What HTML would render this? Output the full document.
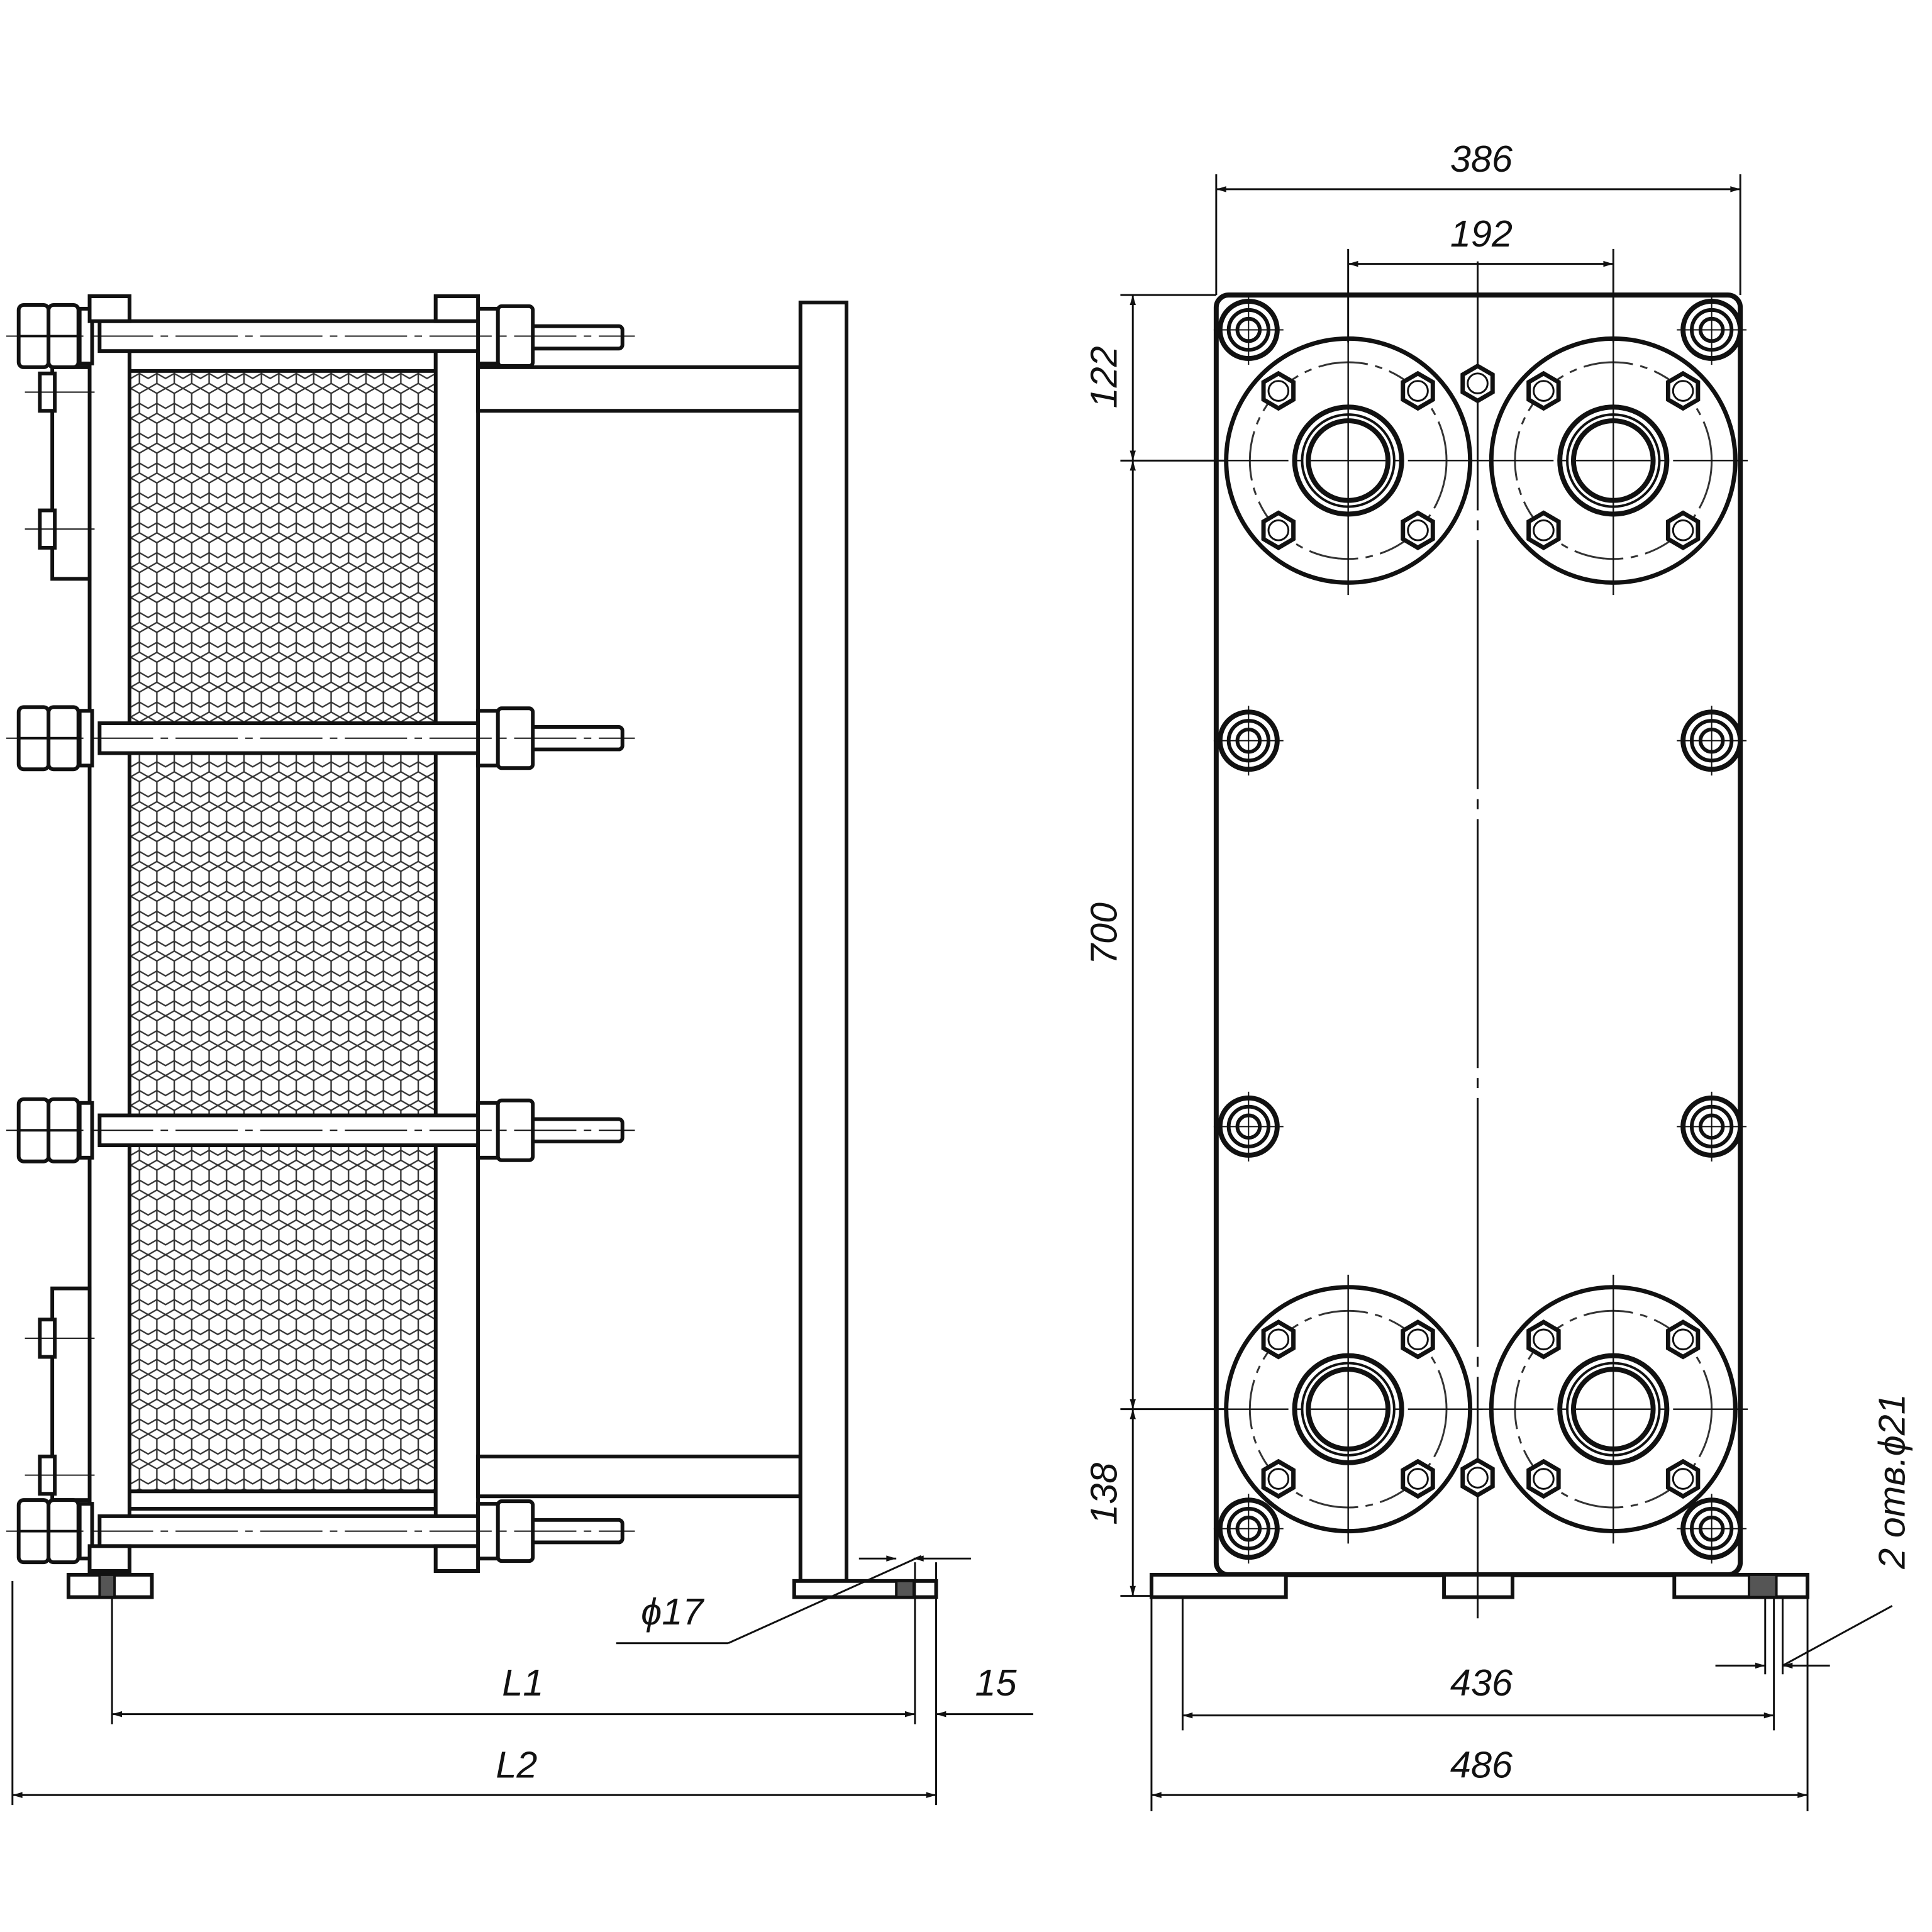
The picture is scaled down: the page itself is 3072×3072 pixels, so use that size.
<!DOCTYPE html>
<html><head><meta charset="utf-8"><style>
html,body{margin:0;padding:0;background:#fff}
svg{display:block}
text{font-family:"Liberation Sans","DejaVu Sans",sans-serif;font-style:italic;font-size:30px;fill:#111}
</style></head><body>
<svg width="3072" height="3072" viewBox="0 0 1552 1552" xmlns="http://www.w3.org/2000/svg">
<defs>
<pattern id="hex" width="14" height="24" patternUnits="userSpaceOnUse">
<path d="M7 0 L14 4 L14 12 L7 16 L0 12 L0 4 Z M0 12 L0 20 M14 12 L14 20 M0 20 L7 24 M14 20 L7 24" fill="none" stroke="#333" stroke-width="1.2"/>
</pattern>
<marker id="ar" viewBox="0 0 10 10" refX="10" refY="5" markerWidth="14" markerHeight="8" orient="auto-start-reverse" markerUnits="userSpaceOnUse"><path d="M0 2 L10 5 L0 8 Z" fill="#111"/></marker>
<g id="nutL"><rect x="0" y="0" width="24" height="50" fill="#fff" stroke="#111" stroke-width="3" rx="4"/><rect x="24" y="0" width="24" height="50" fill="#fff" stroke="#111" stroke-width="3" rx="4"/><line x1="0" y1="25" x2="48" y2="25" stroke="#111" stroke-width="2"/></g>
<g id="cb"><circle r="23" fill="#fff" stroke="#111" stroke-width="4"/><circle r="16" fill="none" stroke="#111" stroke-width="3"/><circle r="9" fill="none" stroke="#111" stroke-width="3"/><line x1="-28" y1="0" x2="28" y2="0" stroke="#111" stroke-width="1"/><line x1="0" y1="-28" x2="0" y2="28" stroke="#111" stroke-width="1"/></g>
<g id="hx"><polygon points="0,-14 12,-7 12,7 0,14 -12,7 -12,-7" fill="#fff" stroke="#111" stroke-width="3.5"/><circle r="8" fill="none" stroke="#111" stroke-width="1.5"/></g>
<g id="fl">
<circle r="98" fill="#fff" stroke="#111" stroke-width="3.5"/>
<circle r="79" fill="none" stroke="#333" stroke-width="1.5" stroke-dasharray="40 6 6 6"/>
<circle r="43" fill="none" stroke="#111" stroke-width="4"/>
<circle r="37" fill="none" stroke="#111" stroke-width="2"/>
<circle r="32" fill="none" stroke="#111" stroke-width="4"/>
<use href="#hx" x="-56" y="-56"/><use href="#hx" x="56" y="-56"/><use href="#hx" x="-56" y="56"/><use href="#hx" x="56" y="56"/>
<line x1="-108" y1="0" x2="108" y2="0" stroke="#111" stroke-width="1.2" stroke-dasharray="60 6 6 6"/>
<line x1="0" y1="-108" x2="0" y2="108" stroke="#111" stroke-width="1.2"/>
</g>
</defs>
<g stroke="#111" fill="none">
<!-- LEFT VIEW -->
<rect x="104" y="298" width="246" height="900" fill="url(#hex)" stroke="none"/>
<rect x="104" y="282" width="246" height="16" stroke-width="3" fill="#fff"/>
<rect x="104" y="1198" width="246" height="14" stroke-width="3" fill="#fff"/>
<rect x="72" y="238" width="32" height="1024" stroke-width="3" fill="#fff"/>
<rect x="350" y="238" width="34" height="1024" stroke-width="3" fill="#fff"/>
<rect x="42" y="295" width="30" height="170" stroke-width="3" fill="#fff"/>
<rect x="42" y="1035" width="30" height="170" stroke-width="3" fill="#fff"/>
<rect x="32" y="300" width="12" height="30" stroke-width="3" fill="#fff"/>
<rect x="32" y="410" width="12" height="30" stroke-width="3" fill="#fff"/>
<rect x="32" y="1060" width="12" height="30" stroke-width="3" fill="#fff"/>
<rect x="32" y="1170" width="12" height="30" stroke-width="3" fill="#fff"/>
<line x1="20" y1="315" x2="76" y2="315" stroke-width="1"/><line x1="20" y1="425" x2="76" y2="425" stroke-width="1"/>
<line x1="20" y1="1075" x2="76" y2="1075" stroke-width="1"/><line x1="20" y1="1185" x2="76" y2="1185" stroke-width="1"/>
<!-- rods -->
<g stroke-width="3" fill="#fff">
<rect x="80" y="258" width="305" height="24"/><rect x="80" y="581" width="305" height="24"/><rect x="80" y="896" width="305" height="24"/><rect x="80" y="1218" width="305" height="24"/>
<rect x="420" y="262" width="80" height="18" rx="3"/><rect x="420" y="584" width="80" height="18" rx="3"/><rect x="420" y="899" width="80" height="18" rx="3"/><rect x="420" y="1221" width="80" height="18" rx="3"/>
<rect x="384" y="248" width="16" height="44"/><rect x="400" y="246" width="28" height="48" rx="3"/>
<rect x="384" y="571" width="16" height="44"/><rect x="400" y="569" width="28" height="48" rx="3"/>
<rect x="384" y="886" width="16" height="44"/><rect x="400" y="884" width="28" height="48" rx="3"/>
<rect x="384" y="1208" width="16" height="44"/><rect x="400" y="1206" width="28" height="48" rx="3"/>
<rect x="64" y="248" width="10" height="44"/><rect x="64" y="571" width="10" height="44"/><rect x="64" y="886" width="10" height="44"/><rect x="64" y="1208" width="10" height="44"/>
</g>
<use href="#nutL" x="15" y="245"/><use href="#nutL" x="15" y="568"/><use href="#nutL" x="15" y="883"/><use href="#nutL" x="15" y="1205"/>
<g stroke-width="1" stroke-dasharray="50 6 6 6"><line x1="5" y1="270" x2="510" y2="270"/><line x1="5" y1="593" x2="510" y2="593"/><line x1="5" y1="908" x2="510" y2="908"/><line x1="5" y1="1230" x2="510" y2="1230"/></g>
<!-- top plate caps -->
<rect x="72" y="238" width="32" height="20" stroke-width="3" fill="#fff"/><rect x="350" y="238" width="34" height="20" stroke-width="3" fill="#fff"/>
<rect x="72" y="1242" width="32" height="20" stroke-width="3" fill="#fff"/><rect x="350" y="1242" width="34" height="20" stroke-width="3" fill="#fff"/>
<!-- guide bars & stand -->
<rect x="384" y="295" width="259" height="35" stroke-width="3" fill="#fff"/>
<rect x="384" y="1170" width="259" height="32" stroke-width="3" fill="#fff"/>
<rect x="643" y="243" width="37" height="1027" stroke-width="3" fill="#fff"/>
<rect x="638" y="1270" width="114" height="13" stroke-width="3" fill="#fff"/>
<rect x="720" y="1270" width="14" height="13" stroke-width="2" fill="#555"/>
<rect x="55" y="1265" width="67" height="18" stroke-width="3" fill="#fff"/>
<rect x="80" y="1265" width="12" height="18" stroke-width="2" fill="#555"/>
<!-- left dims -->
<g stroke-width="1.5">
<line x1="90" y1="1283" x2="90" y2="1385"/><line x1="735" y1="1255" x2="735" y2="1385"/><line x1="752" y1="1255" x2="752" y2="1450"/><line x1="10" y1="1270" x2="10" y2="1450"/>
<line x1="90" y1="1377" x2="735" y2="1377" marker-start="url(#ar)" marker-end="url(#ar)"/>
<line x1="752" y1="1377" x2="830" y2="1377" marker-start="url(#ar)"/>
<line x1="10" y1="1442" x2="752" y2="1442" marker-start="url(#ar)" marker-end="url(#ar)"/>
<line x1="690" y1="1252" x2="720" y2="1252" marker-end="url(#ar)"/><line x1="734" y1="1252" x2="780" y2="1252" marker-start="url(#ar)"/>
<line x1="495" y1="1320" x2="585" y2="1320"/><line x1="585" y1="1320" x2="740" y2="1250"/>
</g>
<!-- RIGHT VIEW -->
<rect x="977" y="237" width="421" height="1028" rx="10" stroke-width="4" fill="#fff"/>
<rect x="925" y="1265" width="108" height="18" stroke-width="3" fill="#fff"/>
<rect x="1160" y="1265" width="55" height="18" stroke-width="3" fill="#fff"/>
<rect x="1345" y="1265" width="107" height="18" stroke-width="3" fill="#fff"/>
<rect x="1405" y="1265" width="22" height="18" stroke-width="2" fill="#555"/>
<line x1="1187" y1="210" x2="1187" y2="1300" stroke-width="1.5" stroke-dasharray="200 8 8 8"/>
<use href="#fl" x="1083" y="370"/><use href="#fl" x="1296" y="370"/><use href="#fl" x="1083" y="1132"/><use href="#fl" x="1296" y="1132"/>
<use href="#hx" x="1187" y="308"/><use href="#hx" x="1187" y="1187"/>
<use href="#cb" x="1003" y="265"/><use href="#cb" x="1375" y="265"/><use href="#cb" x="1003" y="595"/><use href="#cb" x="1375" y="595"/>
<use href="#cb" x="1003" y="905"/><use href="#cb" x="1375" y="905"/><use href="#cb" x="1003" y="1228"/><use href="#cb" x="1375" y="1228"/>
<!-- right dims -->
<g stroke-width="1.5">
<line x1="977" y1="140" x2="977" y2="237"/><line x1="1398" y1="140" x2="1398" y2="237"/>
<line x1="977" y1="152" x2="1398" y2="152" marker-start="url(#ar)" marker-end="url(#ar)"/>
<line x1="1083" y1="200" x2="1083" y2="275"/><line x1="1296" y1="200" x2="1296" y2="275"/>
<line x1="1083" y1="212" x2="1296" y2="212" marker-start="url(#ar)" marker-end="url(#ar)"/>
<line x1="900" y1="237" x2="977" y2="237"/><line x1="900" y1="370" x2="985" y2="370"/><line x1="900" y1="1132" x2="985" y2="1132"/><line x1="900" y1="1282" x2="925" y2="1282"/>
<line x1="910" y1="237" x2="910" y2="370" marker-start="url(#ar)" marker-end="url(#ar)"/>
<line x1="910" y1="370" x2="910" y2="1132" marker-start="url(#ar)" marker-end="url(#ar)"/>
<line x1="910" y1="1132" x2="910" y2="1282" marker-start="url(#ar)" marker-end="url(#ar)"/>
<line x1="950" y1="1283" x2="950" y2="1390"/><line x1="1425" y1="1283" x2="1425" y2="1390"/>
<line x1="925" y1="1283" x2="925" y2="1455"/><line x1="1452" y1="1283" x2="1452" y2="1455"/>
<line x1="1418" y1="1283" x2="1418" y2="1345"/><line x1="1432" y1="1283" x2="1432" y2="1345"/>
<line x1="950" y1="1378" x2="1425" y2="1378" marker-start="url(#ar)" marker-end="url(#ar)"/>
<line x1="925" y1="1442" x2="1452" y2="1442" marker-start="url(#ar)" marker-end="url(#ar)"/>
<line x1="1378" y1="1338" x2="1418" y2="1338" marker-end="url(#ar)"/><line x1="1432" y1="1338" x2="1470" y2="1338" marker-start="url(#ar)"/>
<line x1="1432" y1="1338" x2="1520" y2="1290"/>
</g>
</g>
<text x="1190" y="138" text-anchor="middle">386</text>
<text x="1190" y="198" text-anchor="middle">192</text>
<text x="1190" y="1362" text-anchor="middle">436</text>
<text x="1190" y="1428" text-anchor="middle">486</text>
<text transform="translate(897,303) rotate(-90)" text-anchor="middle">122</text>
<text transform="translate(897,750) rotate(-90)" text-anchor="middle">700</text>
<text transform="translate(897,1200) rotate(-90)" text-anchor="middle">138</text>
<text transform="translate(1530,1190) rotate(-90)" text-anchor="middle">2 отв.ϕ21</text>
<text x="420" y="1362" text-anchor="middle">L1</text>
<text x="415" y="1428" text-anchor="middle">L2</text>
<text x="800" y="1362" text-anchor="middle">15</text>
<text x="540" y="1305" text-anchor="middle">ϕ17</text>
</svg>
</body></html>
